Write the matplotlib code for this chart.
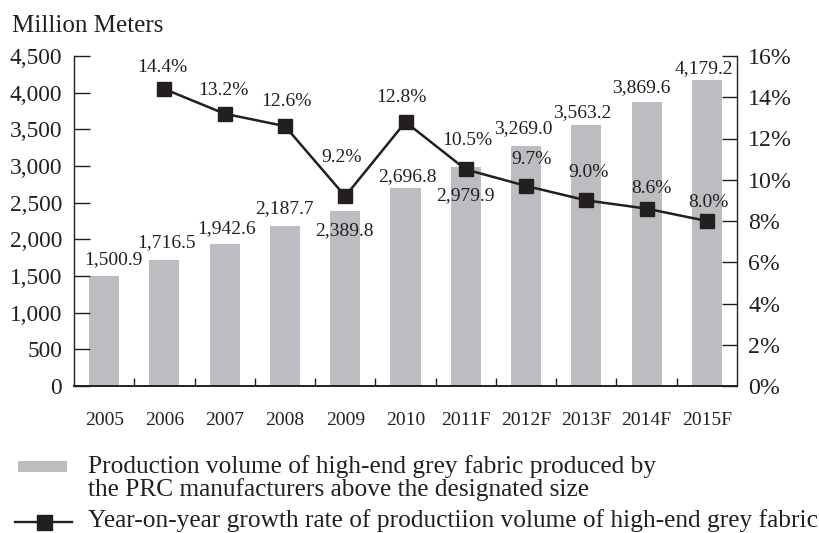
import numpy as np
import matplotlib
matplotlib.use("Agg")
import matplotlib.pyplot as plt
from matplotlib.patches import Rectangle
from matplotlib.lines import Line2D
from matplotlib.ticker import FuncFormatter, FixedLocator

# ---- data -------------------------------------------------------------
years = ["2005", "2006", "2007", "2008", "2009", "2010",
         "2011F", "2012F", "2013F", "2014F", "2015F"]
volume = [1500.9, 1716.5, 1942.6, 2187.7, 2389.8, 2696.8,
          2979.9, 3269.0, 3563.2, 3869.6, 4179.2]
growth_years = years[1:]
growth = [14.4, 13.2, 12.6, 9.2, 12.8, 10.5, 9.7, 9.0, 8.6, 8.0]

left_ticks = list(range(0, 4501, 500))
right_ticks = list(range(0, 17, 2))

# ---- label nudges (pixels, relative to the mark) ----------------------
vol_dx = [9, 2, 2, -1, -1, 1.5, 0, -2.5, -4.5, -5.7, -2.7]
vol_dy = [16, 18, 15, 17, -20, 12, -28, 18, 12, 15, 11]
rate_dx = [-2, -1, 1.5, -4, -4.5, 2, 6, 2, 5, 2]
rate_dy = [21, 23, 25, 39, 25, 29, 26, 28, 20, 18.5]

# ---- style ------------------------------------------------------------
plt.rcParams["font.family"] = ["Liberation Serif", "DejaVu Serif"]
INK = "#231f20"
BAR = "#bcbdc0"
W, H = 819, 533
PT = 0.72  # points per pixel at 100 dpi

fig = plt.figure(figsize=(W / 100, H / 100), dpi=100)
ax = fig.add_axes([74 / W, 1 - 386 / H, (737 - 74) / W, 330 / H])

x = np.arange(len(years))
ax.bar(x, volume, width=0.5, color=BAR, zorder=1)
ax.set_xlim(-0.5, len(years) - 0.5)
ax.set_ylim(0, 4500)
ax.yaxis.set_major_locator(FixedLocator(left_ticks))
ax.yaxis.set_major_formatter(FuncFormatter(lambda v, p: f"{v:,.0f}"))
ax.set_xticks(x)
ax.set_xticklabels(years)
ax.xaxis.set_minor_locator(FixedLocator(x[:-1] + 0.5))

for s in ("top", "right"):
    ax.spines[s].set_visible(False)
ax.spines["left"].set_linewidth(1.0)
ax.spines["bottom"].set_linewidth(1.4)
for s in ax.spines.values():
    s.set_color(INK)

ax.tick_params(axis="y", direction="in", length=11.5, width=1.0, pad=8.5,
               labelsize=16.8, colors=INK)
ax.tick_params(axis="x", which="major", length=0, pad=19, labelsize=14,
               colors=INK)
ax.tick_params(axis="x", which="minor", direction="in", length=6, width=1.0,
               color=INK)

ax2 = ax.twinx()
ax2.set_ylim(0, 16)
ax2.yaxis.set_major_locator(FixedLocator(right_ticks))
ax2.yaxis.set_major_formatter(FuncFormatter(lambda v, p: f"{v:.0f}%"))
for s in ("top", "left", "bottom"):
    ax2.spines[s].set_visible(False)
ax2.spines["right"].set_linewidth(1.0)
ax2.spines["right"].set_color(INK)
ax2.tick_params(axis="y", direction="in", length=11, width=1.0, pad=8,
                labelsize=17.2, colors=INK)

gx = x[1:]
ax2.plot(gx, growth, color=INK, lw=1.8, marker="s", ms=10.5,
         mfc=INK, mec=INK, zorder=3)

for xi, v, dx, dy in zip(x, volume, vol_dx, vol_dy):
    ax.annotate(f"{v:,.1f}", xy=(xi, v), xytext=(dx * PT, dy * PT),
                textcoords="offset points", ha="center", va="center",
                fontsize=14, color=INK)

for xi, v, dx, dy in zip(gx, growth, rate_dx, rate_dy):
    ax2.annotate(f"{v:.1f}%", xy=(xi, v), xytext=(dx * PT, dy * PT),
                 textcoords="offset points", ha="center", va="center",
                 fontsize=14, color=INK)

# ---- axis caption -----------------------------------------------------
fig.text(12 / W, 1 - 32 / H, "Million Meters", ha="left", va="baseline",
         fontsize=18, color=INK)

# ---- legend -----------------------------------------------------------
fig.patches.append(Rectangle((18 / W, 1 - 472 / H), 49 / W, 11 / H,
                             transform=fig.transFigure, facecolor=BAR,
                             edgecolor="none"))
fig.lines.append(Line2D([15 / W, 72 / W], [1 - 522 / H, 1 - 522 / H],
                        transform=fig.transFigure, color=INK, lw=1.7))
fig.lines.append(Line2D([43.5 / W], [1 - 522 / H], transform=fig.transFigure,
                        color=INK, marker="s", ms=10.8, lw=0))

legend_size = 18.3
fig.text(88 / W, 1 - 473 / H,
         "Production volume of high-end grey fabric produced by",
         ha="left", va="baseline", fontsize=legend_size, color=INK)
fig.text(88 / W, 1 - 496 / H,
         "the PRC manufacturers above the designated size",
         ha="left", va="baseline", fontsize=legend_size, color=INK)
fig.text(88 / W, 1 - 527 / H,
         "Year-on-year growth rate of productiion volume of high-end grey fabric",
         ha="left", va="baseline", fontsize=legend_size, color=INK)

fig.savefig("out.png", dpi=100)
